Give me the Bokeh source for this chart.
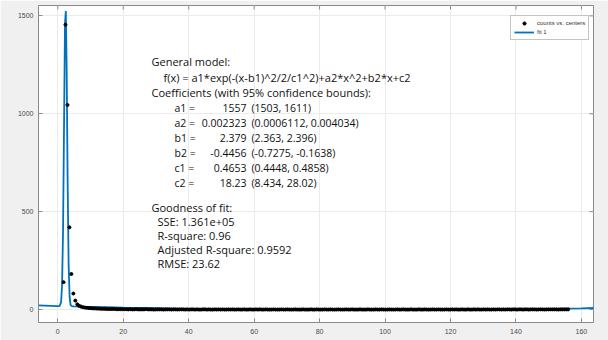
from bokeh.plotting import figure
from bokeh.models import Range1d, FixedTicker, Label, Legend, LegendItem
from bokeh.embed import file_html
from bokeh.resources import INLINE

# ---------------- data ----------------
centers = [
    1.75, 2.35, 2.95, 3.55, 4.15, 4.75, 5.35, 5.95, 6.55, 7.15,
    7.75, 8.35, 8.95, 9.55, 10.15, 10.75, 11.35, 11.95, 12.55, 13.15,
    13.75, 14.35, 14.95, 15.55, 16.15, 16.75, 17.35, 17.95, 18.55, 19.15,
    19.75, 20.35, 20.95, 21.55, 22.15, 22.75, 23.35, 23.95, 24.55, 25.15,
    25.75, 26.35, 26.95, 27.55, 28.15, 28.75, 29.35, 29.95, 30.55, 31.15,
    31.75, 32.35, 32.95, 33.55, 34.15, 34.75, 35.35, 35.95, 36.55, 37.15,
    37.75, 38.35, 38.95, 39.55, 40.15, 40.75, 41.35, 41.95, 42.55, 43.15,
    43.75, 44.35, 44.95, 45.55, 46.15, 46.75, 47.35, 47.95, 48.55, 49.15,
    49.75, 50.35, 50.95, 51.55, 52.15, 52.75, 53.35, 53.95, 54.55, 55.15,
    55.75, 56.35, 56.95, 57.55, 58.15, 58.75, 59.35, 59.95, 60.55, 61.15,
    61.75, 62.35, 62.95, 63.55, 64.15, 64.75, 65.35, 65.95, 66.55, 67.15,
    67.75, 68.35, 68.95, 69.55, 70.15, 70.75, 71.35, 71.95, 72.55, 73.15,
    73.75, 74.35, 74.95, 75.55, 76.15, 76.75, 77.35, 77.95, 78.55, 79.15,
    79.75, 80.35, 80.95, 81.55, 82.15, 82.75, 83.35, 83.95, 84.55, 85.15,
    85.75, 86.35, 86.95, 87.55, 88.15, 88.75, 89.35, 89.95, 90.55, 91.15,
    91.75, 92.35, 92.95, 93.55, 94.15, 94.75, 95.35, 95.95, 96.55, 97.15,
    97.75, 98.35, 98.95, 99.55, 100.15, 100.75, 101.35, 101.95, 102.55, 103.15,
    103.75, 104.35, 104.95, 105.55, 106.15, 106.75, 107.35, 107.95, 108.55, 109.15,
    109.75, 110.35, 110.95, 111.55, 112.15, 112.75, 113.35, 113.95, 114.55, 115.15,
    115.75, 116.35, 116.95, 117.55, 118.15, 118.75, 119.35, 119.95, 120.55, 121.15,
    121.75, 122.35, 122.95, 123.55, 124.15, 124.75, 125.35, 125.95, 126.55, 127.15,
    127.75, 128.35, 128.95, 129.55, 130.15, 130.75, 131.35, 131.95, 132.55, 133.15,
    133.75, 134.35, 134.95, 135.55, 136.15, 136.75, 137.35, 137.95, 138.55, 139.15,
    139.75, 140.35, 140.95, 141.55, 142.15, 142.75, 143.35, 143.95, 144.55, 145.15,
    145.75, 146.35, 146.95, 147.55, 148.15, 148.75, 149.35, 149.95, 150.55, 151.15,
    151.75, 152.35, 152.95, 153.55, 154.15, 154.75, 155.35, 155.95,
]
counts = [
    140, 1455, 1045, 420, 182, 82, 46, 27, 19, 15,
    12, 10, 9, 8, 7, 6, 6, 5, 5, 4,
    4, 4, 3, 3, 3, 3, 3, 2, 2, 2,
    2, 2, 2, 1, 2, 1, 1, 2, 1, 1,
    1, 1, 2, 1, 1, 1, 0, 1, 1, 1,
    1, 0, 1, 1, 1, 0, 1, 1, 0, 1,
    1, 1, 0, 1, 0, 1, 1, 0, 1, 0,
    0, 1, 1, 0, 1, 0, 0, 1, 0, 1,
    0, 1, 0, 0, 1, 0, 1, 0, 0, 1,
    0, 0, 1, 0, 0, 1, 0, 0, 1, 0,
    1, 0, 0, 1, 0, 0, 0, 1, 0, 0,
    0, 1, 0, 0, 1, 0, 0, 0, 1, 0,
    0, 0, 1, 0, 0, 0, 1, 0, 0, 1,
    0, 0, 0, 1, 0, 0, 1, 0, 0, 0,
    1, 0, 0, 0, 1, 0, 0, 1, 0, 0,
    0, 1, 0, 0, 0, 1, 0, 0, 0, 1,
    0, 0, 1, 0, 0, 0, 1, 0, 0, 0,
    1, 0, 0, 1, 0, 0, 0, 1, 0, 0,
    0, 1, 0, 0, 1, 0, 0, 0, 1, 0,
    0, 1, 0, 0, 0, 1, 0, 0, 1, 0,
    1, 0, 0, 1, 0, 0, 1, 0, 0, 1,
    0, 1, 0, 0, 1, 0, 1, 0, 0, 1,
    0, 1, 1, 0, 1, 0, 1, 1, 0, 1,
    1, 0, 1, 1, 0, 1, 1, 0, 1, 1,
    1, 0, 1, 1, 1, 0, 1, 1, 1, 1,
    1, 1, 0, 1, 1, 1, 1, 1,
]
fit_x = [-6, -2, 0, 0.5, 1.0, 1.3, 1.6, 1.9, 2.2, 2.45, 2.7, 3.0, 3.3, 3.6, 3.9,
         4.3, 5, 7, 10, 15, 20, 30, 40, 50, 60, 80, 100, 120, 140, 150, 160, 164]
fit_y = [21, 19, 18, 18, 37, 124, 401, 934, 1463, 1525, 1244, 657, 236, 67, 24,
         17, 16, 15, 14, 12, 10, 7, 4, 2, 0, -3, -3, -2, 1, 4, 6, 8]

x_ticks = [0, 20, 40, 60, 80, 100, 120, 140, 160]
y_ticks = [0, 500, 1000, 1500]

series_labels = ["counts vs. centers", "fit 1"]
model_title = "General model:"
model_formula = "f(x) = a1*exp(-(x-b1)^2/2/c1^2)+a2*x^2+b2*x+c2"
coef_title = "Coefficients (with 95% confidence bounds):"
coef_names = ["a1 =", "a2 =", "b1 =", "b2 =", "c1 =", "c2 ="]
coef_values = ["1557", "0.002323", "2.379", "-0.4456", "0.4653", "18.23"]
coef_bounds = ["(1503, 1611)", "(0.0006112, 0.004034)", "(2.363, 2.396)",
               "(-0.7275, -0.1638)", "(0.4448, 0.4858)", "(8.434, 28.02)"]
gof_title = "Goodness of fit:"
gof_lines = ["SSE: 1.361e+05", "R-square: 0.96", "Adjusted R-square: 0.9592", "RMSE: 23.62"]

# ---------------- figure ----------------
X0, X1 = -5.9, 163.7
Y0, Y1 = -66, 1553
FL, FR, FT, FB = 38, 593, 5, 322   # frame edges in pixels

p = figure(width=608, height=340, output_backend="svg", toolbar_location=None,
           x_range=Range1d(X0, X1), y_range=Range1d(Y0, Y1),
           min_border_left=FL, min_border_right=608 - FR,
           min_border_top=FT, min_border_bottom=340 - FB)
p.border_fill_color = "#f0f0f0"
p.background_fill_color = "white"
p.outline_line_color = "#8a8a8a"

AX = "#8a8a8a"
for ax in (p.xaxis[0], p.yaxis[0]):
    ax.major_tick_in = 4
    ax.major_tick_out = 0
    ax.minor_tick_line_color = None
    ax.axis_line_color = AX
    ax.major_tick_line_color = AX
    ax.major_label_text_font = "Liberation Sans"
    ax.major_label_text_font_size = "7px"
    ax.major_label_text_color = "#4a4a4a"
p.xaxis.ticker = FixedTicker(ticks=x_ticks)
p.yaxis.ticker = FixedTicker(ticks=y_ticks)
p.xaxis.major_label_standoff = 6
p.yaxis.major_label_standoff = 5

p.xgrid.ticker = FixedTicker(ticks=x_ticks)
p.ygrid.ticker = FixedTicker(ticks=y_ticks)
p.xgrid.grid_line_color = "#ebebeb"
p.ygrid.grid_line_color = "#ebebeb"

# inward ticks on the top and right edges of the box
tick_dy = 4 * (Y1 - Y0) / (FB - FT)
tick_dx = 4 * (X1 - X0) / (FR - FL)
p.segment(x0=x_ticks, y0=[Y1] * len(x_ticks), x1=x_ticks, y1=[Y1 - tick_dy] * len(x_ticks),
          line_color=AX, line_width=1)
p.segment(x0=[X1] * len(y_ticks), y0=y_ticks, x1=[X1 - tick_dx] * len(y_ticks), y1=y_ticks,
          line_color=AX, line_width=1)

fit_r = p.line(fit_x, fit_y, line_color="#0072BD", line_width=1.8)
pts_r = p.scatter(centers, counts, size=3, fill_color="black", line_color="black")

legend = Legend(items=[LegendItem(label=series_labels[0], renderers=[pts_r]),
                       LegendItem(label=series_labels[1], renderers=[fit_r])],
                location=(FR - FL - 83, FB - 40))
legend.label_text_font = "Liberation Sans"
legend.label_text_font_size = "6px"
legend.label_text_color = "#333333"
legend.glyph_width = 20
legend.glyph_height = 8
legend.label_height = 8
legend.spacing = 1
legend.padding = 3
legend.label_standoff = 3
legend.margin = 0
legend.border_line_color = AX
legend.background_fill_color = "white"
legend.background_fill_alpha = 1
p.add_layout(legend, "center")


def dx(px):
    return X0 + (px - FL) / (FR - FL) * (X1 - X0)


def dy(py):
    return Y1 - (py - FT) / (FB - FT) * (Y1 - Y0)


FONT = "Open Sans"
TC = "#111111"


def put(px, py, txt, align="left", fs="11px"):
    p.add_layout(Label(x=dx(px), y=dy(py), text=txt, text_font=FONT, text_font_size=fs,
                       text_color=TC, text_baseline="middle", text_align=align))


put(151, 61, model_title)
put(163, 77, model_formula)
put(151, 92, coef_title)
for i in range(len(coef_names)):
    yy = 107 + 15 * i
    put(174, yy, coef_names[i], fs="10.5px")
    put(246, yy, coef_values[i], "right", fs="10.5px")
    put(251, yy, coef_bounds[i], fs="10.5px")
put(151, 207, gof_title)
for i, s in enumerate(gof_lines):
    put(157, 221 + 14 * i, s)

open("out.html", "w").write(file_html(p, INLINE))
